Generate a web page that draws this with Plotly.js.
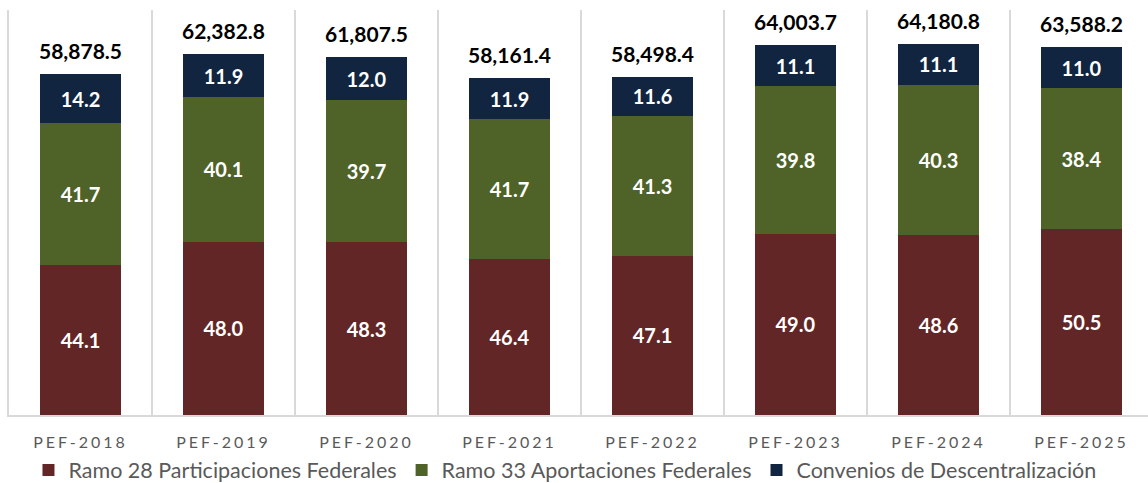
<!DOCTYPE html>
<html>
<head>
<meta charset="utf-8">
<script src="https://cdn.plot.ly/plotly-3.0.1.min.js"></script>
<style>
html,body{margin:0;padding:0;overflow:hidden;background:#fff;}
#chart{width:1153px;height:483px;}
.xtick text{letter-spacing:3px;}
</style>
</head>
<body>
<div id="chart"></div>
<script>
const categories = ["PEF-2018","PEF-2019","PEF-2020","PEF-2021","PEF-2022","PEF-2023","PEF-2024","PEF-2025"];
const totals = [58878.5, 62382.8, 61807.5, 58161.4, 58498.4, 64003.7, 64180.8, 63588.2];
const ramo28Pct = [44.1, 48.0, 48.3, 46.4, 47.1, 49.0, 48.6, 50.5];
const ramo33Pct = [41.7, 40.1, 39.7, 41.7, 41.3, 39.8, 40.3, 38.4];
const conveniosPct = [14.2, 11.9, 12.0, 11.9, 11.6, 11.1, 11.1, 11.0];
const seriesNames = ["Ramo 28 Participaciones Federales","Ramo 33 Aportaciones Federales","Convenios de Descentralización"];
const colors = ["#622626","#4f6228","#122540"];

const font = "Lato, 'Open Sans', sans-serif";
function seg(pcts, i){
  return {
    type:'bar', name: seriesNames[i], x: categories,
    y: pcts.map((p,k)=>p*totals[k]/100),
    text: pcts.map(p=>p.toFixed(1)),
    textposition:'inside', insidetextanchor:'middle',
    textfont:{family:font, size:20, color:'#ffffff', weight:'bold'},
    marker:{color:colors[i], line:{width:0}},
    hoverinfo:'skip'
  };
}
const traces = [seg(ramo28Pct,0), seg(ramo33Pct,1), seg(conveniosPct,2)];
const annotations = categories.map((c,k)=>({
  x:c, y:totals[k], xref:'x', yref:'y', yanchor:'bottom', yshift:9, showarrow:false,
  text: totals[k].toLocaleString('en-US',{minimumFractionDigits:1,maximumFractionDigits:1}),
  font:{family:font, size:21, color:'#000000', weight:'bold'}
}));
const layout = {
  width:1153, height:483,
  margin:{l:9, r:0, t:10, b:68, autoexpand:false},
  paper_bgcolor:'#fff', plot_bgcolor:'#fff',
  barmode:'stack', bargap:0.44,
  showlegend:true,
  annotations: annotations,
  legend:{orientation:'h', x:0.486, xanchor:'center', yref:'container', y:0.027, yanchor:'middle',
          traceorder:'normal', font:{family:font, size:21.5, color:'#595959'}},
  xaxis:{type:'category', tickson:'boundaries', showgrid:true, gridcolor:'#d9d9d9', gridwidth:2,
         showline:true, linecolor:'#d9d9d9', linewidth:2, ticks:'', ticklabelstandoff:12,
         tickfont:{family:font, size:16, color:'#595959'}},
  yaxis:{range:[0,70000], showticklabels:false, showgrid:false, zeroline:false,
         showline:true, linecolor:'#d9d9d9', linewidth:2},
  font:{family:font}
};
Plotly.newPlot('chart', traces, layout, {displayModeBar:false, staticPlot:true});
</script>
</body>
</html>
